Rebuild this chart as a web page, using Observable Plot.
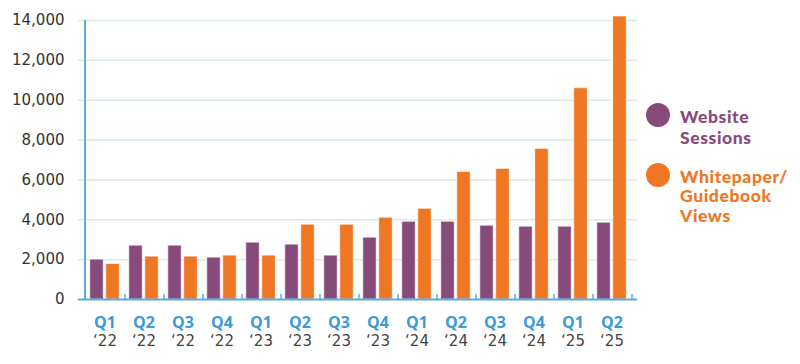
<!DOCTYPE html>
<html><head><meta charset="utf-8">
<script src="https://cdn.jsdelivr.net/npm/d3@7"></script>
<script src="https://cdn.jsdelivr.net/npm/@observablehq/plot@0.6"></script>
<style>
body{margin:0;background:#fff;}
#wrap{position:relative;width:800px;height:364px;font-family:"Open Sans",sans-serif;overflow:hidden;}
#wrap svg{position:absolute;left:0;top:0;overflow:visible;}
.lg-dot{position:absolute;width:24px;height:24px;border-radius:50%;}
.lg-txt{position:absolute;left:680px;font-family:Lato,sans-serif;font-weight:900;font-size:17.5px;letter-spacing:0.6px;white-space:nowrap;}
</style></head><body><div id="wrap"></div>
<script>
const quarters = ["Q1 ‘22","Q2 ‘22","Q3 ‘22","Q4 ‘22","Q1 ‘23","Q2 ‘23","Q3 ‘23","Q4 ‘23","Q1 ‘24","Q2 ‘24","Q3 ‘24","Q4 ‘24","Q1 ‘25","Q2 ‘25"];
const quarterLabels = ["Q1","Q2","Q3","Q4","Q1","Q2","Q3","Q4","Q1","Q2","Q3","Q4","Q1","Q2"];
const yearLabels = ["‘22","‘22","‘22","‘22","‘23","‘23","‘23","‘23","‘24","‘24","‘24","‘24","‘25","‘25"];
const websiteSessions = [2000, 2700, 2700, 2100, 2850, 2750, 2200, 3100, 3900, 3900, 3700, 3650, 3650, 3850];
const whitepaperViews = [1780, 2150, 2150, 2200, 2200, 3750, 3750, 4100, 4550, 6400, 6550, 7550, 10600, 14200];
const seriesNames = ["Website Sessions", "Whitepaper/ Guidebook Views"];
const legendLines = [["Website","Sessions"],["Whitepaper/","Guidebook","Views"]];
const seriesColors = ["#874b7b", "#ef7623"];
const yTicks = [0, 2000, 4000, 6000, 8000, 10000, 12000, 14000];

const data = quarters.flatMap((q, i) => [
  {quarter: q, series: seriesNames[0], value: websiteSessions[i]},
  {quarter: q, series: seriesNames[1], value: whitepaperViews[i]}
]);

const axisBlue = "#5ba9dd";
const labelBlue = "#3d9ad6";
const numFont = "DejaVu Sans, sans-serif";

const chart = Plot.plot({
  width: 800, height: 364,
  marginLeft: 78, marginRight: 163, marginTop: 20, marginBottom: 65,
  style: {fontFamily: "Open Sans, sans-serif", fontSize: "16px", background: "transparent", overflow: "visible"},
  x: {type: "band", domain: quarters, padding: 0, axis: null},
  y: {domain: [0, 14000], axis: null},
  marks: [
    Plot.gridY(yTicks.filter(d => d > 0), {stroke: "#d7ebdf", strokeOpacity: 1, strokeWidth: 1.5}),
    Plot.axisY(yTicks, {label: null, tickSize: 0, tickPadding: 14, tickFormat: d3.format(","), fill: "#333", fontSize: 15, fontFamily: numFont}),
    Plot.barY(data.filter(d => d.series === seriesNames[0]), {x: "quarter", y: "value", fill: seriesColors[0], insetLeft: 4.8, insetRight: 20.8, stroke: "#fff", strokeOpacity: 0.55, strokeWidth: 1}),
    Plot.barY(data.filter(d => d.series === seriesNames[1]), {x: "quarter", y: "value", fill: seriesColors[1], insetLeft: 20.8, insetRight: 4.8, stroke: "#fff", strokeOpacity: 0.55, strokeWidth: 1}),
    Plot.ruleY([0], {stroke: axisBlue, strokeWidth: 2}),
    Plot.ruleX([quarters[0]], {dx: -20, y1: 0, y2: 14000, stroke: axisBlue, strokeWidth: 2}),
    Plot.axisX(quarters, {label: null, tickSize: -5, dx: 20, tickFormat: () => "", stroke: axisBlue, strokeWidth: 1.5}),
    Plot.axisX(quarters, {label: null, tickSize: 0, tickPadding: 17, tickFormat: d => quarterLabels[quarters.indexOf(d)], fill: labelBlue, fontWeight: 700, fontSize: 16}),
    Plot.axisX(quarters, {label: null, tickSize: 0, tickPadding: 36, tickFormat: d => yearLabels[quarters.indexOf(d)], fill: "#444", fontSize: 15, fontFamily: numFont})
  ]
});

const wrap = document.getElementById("wrap");
wrap.appendChild(chart);

const dotTops = [103, 163];
const textTops = [106, 166.5];
const lineHeights = [21, 19.5];
seriesNames.forEach((s, i) => {
  const dot = document.createElement("div");
  dot.className = "lg-dot";
  dot.style.left = "646px";
  dot.style.top = dotTops[i] + "px";
  dot.style.background = seriesColors[i];
  wrap.appendChild(dot);
  const t = document.createElement("div");
  t.className = "lg-txt";
  t.style.top = textTops[i] + "px";
  t.style.lineHeight = lineHeights[i] + "px";
  t.style.color = seriesColors[i];
  t.innerHTML = legendLines[i].join("<br>");
  wrap.appendChild(t);
});
</script></body></html>
